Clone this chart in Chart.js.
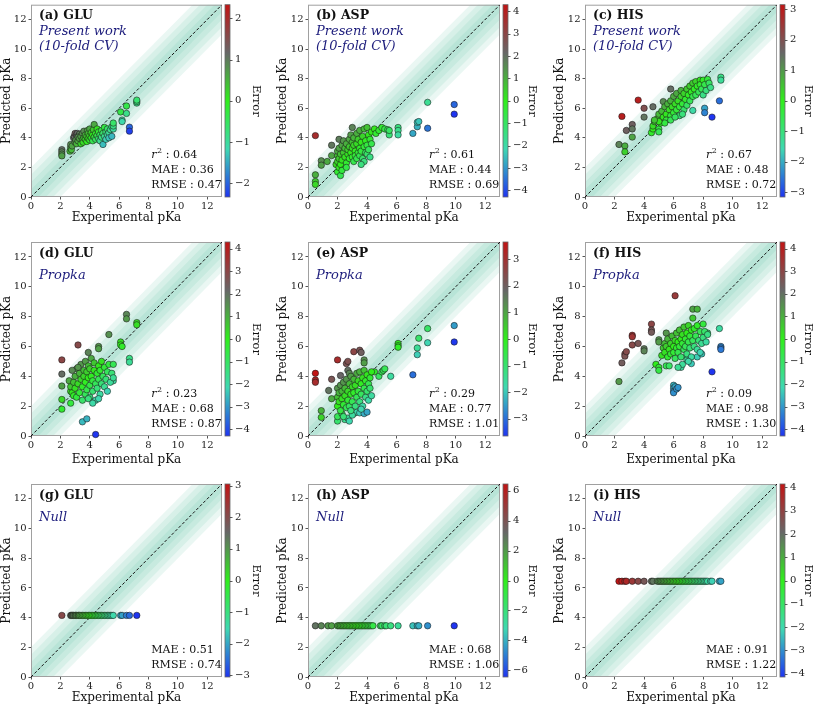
<!DOCTYPE html>
<html>
<head>
<meta charset="utf-8">
<script src="https://cdn.jsdelivr.net/npm/chart.js@4.4.1/dist/chart.umd.min.js"></script>
<style>
  html, body { margin: 0; padding: 0; background: #fff; }
  #figure { position: relative; width: 815px; height: 706px; overflow: hidden; }
  #figure canvas { position: absolute; }
</style>
</head>
<body>
<div id="figure"></div>
<script>
// [experimental, predicted] pairs
const gluCvPoints = [
  [2.1, 3.2], [2.1, 3.05], [2.1, 2.9], [2.1, 2.78], [2.65, 3.1], [2.7, 3.35], [2.7, 3.55], [2.75, 3.2], [2.8, 3.45],
  [2.9, 4.0], [2.95, 4.1], [3.0, 4.3], [3.1, 4.2], [3.15, 4.3], [3.25, 4.15], [3.3, 4.25], [3.0, 3.7], [3.05, 3.85],
  [3.1, 3.6], [3.2, 3.8], [3.2, 4.05], [3.3, 3.95], [3.4, 3.6], [3.4, 4.1], [3.5, 3.85], [3.5, 4.3], [3.55, 3.7],
  [3.6, 4.0], [3.6, 4.45], [3.7, 3.9], [3.7, 4.2], [3.8, 3.75], [3.8, 4.1], [3.85, 4.5], [3.9, 3.95], [3.9, 4.3],
  [4.0, 3.85], [4.0, 4.15], [4.0, 4.6], [4.1, 4.0], [4.1, 4.35], [4.2, 3.8], [4.2, 4.2], [4.25, 4.55], [4.3, 4.9],
  [4.3, 4.05], [4.4, 4.3], [4.4, 3.9], [4.5, 4.15], [4.5, 4.6], [4.6, 3.95], [4.6, 4.4], [4.7, 4.2], [4.7, 3.8],
  [4.8, 4.5], [4.8, 4.05], [4.9, 4.3], [4.9, 3.55], [5.0, 4.1], [5.0, 4.7], [5.1, 4.4], [5.1, 3.9], [5.2, 4.6],
  [5.2, 4.2], [5.3, 4.35], [5.3, 4.0], [5.4, 4.55], [5.5, 4.1], [5.5, 4.75], [5.6, 4.6], [5.6, 4.8], [5.6, 5.0],
  [6.1, 5.75], [6.2, 5.2], [6.2, 5.1], [6.5, 6.15], [6.5, 5.65], [7.2, 6.35], [7.2, 6.45], [7.2, 6.55], [6.7, 4.72], [6.7, 4.45],
];
const aspCvPoints = [
  [0.5, 4.15], [0.5, 1.5], [0.5, 1.05], [0.5, 0.85], [0.9, 2.45], [0.9, 2.15], [1.3, 2.4], [1.6, 3.5], [1.6, 2.8],
  [2.1, 3.9], [3.0, 4.7], [1.9, 2.2], [2.0, 1.7], [2.2, 1.45], [2.1, 2.0], [2.4, 2.1],
  [2.0, 2.4], [2.0, 2.8], [2.0, 3.1], [2.1, 2.6], [2.1, 3.3], [2.2, 2.2], [2.2, 2.9], [2.3, 3.5], [2.3, 2.5], [2.4, 3.0],
  [2.4, 3.8], [2.5, 2.7], [2.5, 3.3], [2.6, 2.3], [2.6, 3.6], [2.7, 2.9], [2.7, 3.2], [2.8, 2.6], [2.8, 3.9], [2.8, 3.4],
  [2.9, 3.0], [2.9, 4.2], [3.0, 2.7], [3.0, 3.3], [3.0, 3.7], [3.1, 2.4], [3.1, 3.5], [3.1, 4.0], [3.2, 3.1], [3.2, 2.8],
  [3.3, 3.6], [3.3, 4.3], [3.3, 2.6], [3.4, 3.0], [3.4, 3.9], [3.5, 3.3], [3.5, 4.5], [3.5, 2.8], [3.6, 3.7], [3.6, 3.1],
  [3.7, 4.1], [3.7, 2.6], [3.8, 3.4], [3.8, 4.6], [3.9, 3.0], [3.9, 3.8], [4.0, 4.7], [4.0, 3.5], [4.0, 2.9], [4.1, 4.2],
  [4.1, 3.2], [4.2, 3.9], [4.2, 2.7], [4.3, 3.6], [4.3, 4.4], [3.8, 2.4], [3.6, 2.2], [2.3, 1.8], [2.6, 2.0],
  [4.5, 4.6], [4.6, 4.3], [4.8, 4.5], [5.0, 4.7], [5.2, 4.6], [5.4, 4.55], [5.5, 4.2], [5.5, 4.5], [6.1, 4.7], [6.1, 4.5],
  [6.1, 4.2], [7.1, 4.3], [7.4, 4.75], [7.4, 5.05], [7.5, 5.1], [8.1, 6.4], [8.1, 4.65], [9.9, 6.25], [9.9, 5.6],
];
const hisCvPoints = [
  [2.3, 3.55], [2.5, 5.45], [2.7, 3.45], [2.7, 3.05], [2.8, 4.5], [3.2, 4.9], [3.2, 4.6], [3.2, 4.05], [3.6, 6.55],
  [4.0, 6.0], [4.0, 5.4], [4.6, 6.1], [4.5, 4.35], [4.6, 4.6], [4.6, 4.8], [4.7, 5.1], [5.0, 4.6], [5.0, 4.4],
  [5.3, 6.45], [5.8, 7.3], [7.3, 5.85], [8.1, 6.0], [8.1, 5.7], [8.6, 5.4], [9.1, 6.5], [9.2, 8.1], [9.2, 7.9],
  [4.9, 5.3], [5.0, 5.6], [5.1, 5.0], [5.2, 5.8], [5.3, 5.4], [5.4, 6.1], [5.5, 5.6], [5.5, 5.2], [5.6, 6.3], [5.7, 5.9],
  [5.8, 5.5], [5.8, 6.5], [5.9, 6.1], [6.0, 5.7], [6.0, 6.8], [6.1, 6.3], [6.2, 5.9], [6.2, 7.0], [6.3, 6.5], [6.4, 6.1],
  [6.4, 5.5], [6.5, 6.8], [6.5, 7.2], [6.6, 6.3], [6.7, 5.9], [6.7, 7.0], [6.8, 6.6], [6.9, 7.3], [6.9, 6.2], [7.0, 6.9],
  [7.1, 7.5], [7.1, 6.5], [7.2, 7.1], [7.3, 6.8], [7.3, 7.7], [7.4, 7.3], [7.5, 6.9], [7.5, 7.8], [7.6, 7.5], [7.7, 7.1],
  [7.8, 7.9], [7.8, 7.6], [7.9, 7.3], [8.0, 7.9], [8.0, 6.9], [8.1, 7.6], [8.2, 7.2], [8.3, 7.95], [8.4, 7.7], [8.5, 7.4],
  [5.8, 5.2], [6.1, 5.4], [6.6, 5.6], [5.4, 5.0], [5.0, 5.1], [4.7, 5.2],
];
const gluPkPoints = [
  [4.4, 0.1], [3.5, 0.95], [3.8, 1.15], [2.1, 5.1], [2.1, 4.15], [3.2, 6.1], [2.1, 3.35], [2.1, 2.45], [2.1, 1.8],
  [3.9, 5.6], [4.6, 6.0], [4.6, 5.85], [5.3, 6.8], [6.1, 6.3], [6.1, 6.1], [6.2, 6.0], [6.5, 8.15], [6.5, 7.85],
  [7.2, 7.6], [7.2, 7.45], [6.7, 5.2], [6.7, 4.95], [5.6, 3.7], [2.7, 2.2],
  [2.6, 3.7], [2.7, 3.0], [2.7, 3.3], [2.8, 2.9], [2.9, 3.6], [2.9, 2.7], [3.0, 4.0], [3.0, 3.2], [3.1, 4.5], [3.1, 2.6],
  [3.2, 3.5], [3.3, 4.2], [3.3, 2.9], [3.4, 4.8], [3.4, 3.8], [3.5, 3.3], [3.5, 2.4], [3.6, 4.4], [3.6, 4.0], [3.7, 3.6],
  [3.7, 5.0], [3.7, 2.8], [3.8, 4.3], [3.8, 3.1], [3.9, 4.7], [3.9, 3.9], [4.0, 3.4], [4.0, 4.5], [4.0, 2.6], [4.1, 5.2],
  [4.1, 4.0], [4.2, 3.7], [4.2, 3.0], [4.3, 4.4], [4.3, 4.9], [4.4, 3.5], [4.4, 2.4], [4.5, 4.2], [4.5, 3.2], [4.6, 4.7],
  [4.6, 3.8], [4.7, 2.8], [4.7, 4.4], [4.8, 3.5], [4.8, 5.0], [4.9, 4.0], [5.0, 3.3], [5.0, 4.6], [5.1, 3.8], [5.2, 4.3],
  [5.2, 3.0], [5.3, 4.8], [5.4, 3.6], [5.5, 4.2], [5.6, 3.9], [5.6, 4.8], [4.6, 2.5], [3.9, 2.5], [4.2, 2.2], [2.8, 4.4], [3.2, 4.6],
];
const aspPkPoints = [
  [0.5, 4.2], [0.5, 3.75], [0.5, 3.6], [0.9, 1.7], [0.9, 1.25], [1.4, 3.05], [1.6, 3.8], [1.6, 2.5], [2.0, 5.1],
  [2.2, 4.05], [2.6, 4.85], [2.7, 5.0], [2.7, 4.4], [2.8, 4.2], [3.1, 5.65], [3.5, 5.75], [3.6, 5.6], [3.8, 5.1],
  [3.8, 4.9], [4.5, 4.3], [4.8, 4.0], [5.0, 4.3], [5.1, 4.4], [5.2, 4.5], [5.6, 4.0], [6.1, 6.2], [6.1, 6.05],
  [6.1, 5.95], [7.1, 4.1], [7.4, 5.9], [7.4, 5.45], [7.5, 6.55], [8.1, 7.2], [8.1, 6.25], [9.9, 7.4], [9.9, 6.3],
  [2.0, 1.0], [2.0, 1.3], [2.3, 1.5], [2.5, 1.1], [2.7, 1.2], [2.8, 1.0], [3.1, 1.5], [3.3, 1.6], [3.5, 1.55], [3.8, 1.5], [4.0, 1.6],
  [2.0, 2.0], [2.0, 2.6], [2.0, 3.2], [2.1, 2.3], [2.1, 2.9], [2.2, 1.7], [2.2, 3.4], [2.3, 2.5], [2.3, 3.0], [2.4, 2.1],
  [2.4, 3.6], [2.5, 2.7], [2.5, 3.2], [2.6, 1.9], [2.6, 3.8], [2.7, 2.4], [2.7, 3.0], [2.8, 3.5], [2.8, 2.0], [2.9, 2.8],
  [2.9, 4.0], [3.0, 2.3], [3.0, 3.3], [3.1, 2.9], [3.1, 3.8], [3.2, 2.0], [3.2, 3.4], [3.3, 2.6], [3.3, 4.2], [3.4, 3.0],
  [3.4, 3.7], [3.5, 2.3], [3.5, 4.3], [3.6, 2.8], [3.6, 3.5], [3.7, 3.9], [3.7, 2.0], [3.8, 3.2], [3.8, 4.4], [3.9, 2.6],
  [3.9, 3.7], [4.0, 3.0], [4.0, 4.1], [4.1, 3.5], [4.1, 2.4], [4.2, 3.9], [4.2, 3.2], [4.3, 2.7], [4.3, 4.3], [2.4, 1.3],
  [3.0, 1.4], [3.6, 1.8], [2.9, 1.7],
];
const hisPkPoints = [
  [2.3, 3.65], [2.5, 4.9], [2.7, 5.5], [2.7, 5.35], [2.8, 5.65], [3.2, 6.75], [3.2, 6.65], [3.2, 6.1], [3.6, 6.2],
  [4.0, 5.85], [4.0, 5.7], [4.5, 7.5], [4.5, 7.1], [4.5, 6.95], [6.1, 9.4], [5.0, 6.45], [5.0, 6.3], [4.8, 4.8],
  [5.0, 4.6], [5.0, 4.4], [5.5, 6.9], [5.5, 4.7], [6.0, 3.4], [6.0, 3.2], [6.0, 3.0], [6.0, 2.9], [6.1, 3.3], [6.2, 3.15],
  [6.3, 3.25], [7.3, 8.5], [7.6, 8.5], [7.3, 7.9], [8.6, 4.3], [9.2, 6.0], [9.2, 5.9], [9.2, 5.8], [9.1, 7.2], [8.3, 6.9],
  [7.2, 4.85], [7.6, 5.3], [7.9, 5.5], [6.9, 5.3], [6.9, 5.1], [6.5, 4.6],
  [5.2, 5.4], [5.3, 5.9], [5.4, 6.2], [5.4, 5.6], [5.5, 6.0], [5.6, 5.3], [5.6, 6.5], [5.7, 5.8], [5.8, 6.2], [5.8, 5.5],
  [5.9, 6.7], [6.0, 6.0], [6.0, 5.6], [6.1, 6.4], [6.1, 5.2], [6.2, 5.9], [6.2, 6.9], [6.3, 6.3], [6.3, 5.6], [6.4, 7.1],
  [6.4, 6.0], [6.5, 6.5], [6.5, 5.3], [6.6, 6.8], [6.6, 6.2], [6.7, 5.8], [6.7, 7.3], [6.8, 6.5], [6.8, 6.0], [6.9, 6.9],
  [6.9, 5.5], [7.0, 6.3], [7.0, 7.4], [7.1, 5.9], [7.1, 6.7], [7.2, 7.1], [7.2, 5.3], [7.3, 6.4], [7.4, 6.0], [7.4, 7.2],
  [7.5, 6.7], [7.6, 7.4], [7.6, 5.8], [7.7, 6.4], [7.8, 7.0], [7.9, 6.2], [8.0, 7.5], [8.0, 6.6], [8.1, 7.0], [8.2, 6.3],
  [8.3, 6.8], [6.6, 4.8], [7.0, 5.0], [7.8, 5.6], [5.7, 4.7], [6.3, 4.6],
];

// null model: one constant prediction per residue
const nullGluPred = 4.15;
const nullAspPred = 3.45;
const nullHisPred = 6.45;
const nullGluExp = [2.1, 2.7, 2.75, 2.8, 2.85, 2.9, 3.0, 3.05, 3.1, 3.2, 3.25, 3.3, 3.4, 3.5, 3.6, 3.7, 3.8, 3.9, 4.0, 4.1,
  4.2, 4.3, 4.4, 4.5, 4.6, 4.7, 4.8, 4.9, 5.0, 5.1, 5.2, 5.3, 5.4, 5.5, 5.6, 6.1, 6.2, 6.5, 6.7, 7.2];
const nullAspExp = [0.5, 0.9, 1.35, 1.6, 2.0, 2.1, 2.2, 2.3, 2.4, 2.5, 2.6, 2.7, 2.8, 2.9, 3.0, 3.1, 3.2, 3.3, 3.4, 3.5,
  3.6, 3.7, 3.8, 3.9, 4.0, 4.1, 4.2, 4.3, 4.4, 4.9, 5.0, 5.2, 5.3, 5.6, 6.1, 7.1, 7.4, 7.5, 8.1, 9.9];
const nullHisExp = [2.3, 2.5, 2.7, 2.8, 3.2, 3.6, 4.0, 4.5, 4.6, 4.9, 5.0, 5.1, 5.2, 5.3, 5.4, 5.5, 5.6, 5.7, 5.8, 5.9,
  6.0, 6.1, 6.2, 6.3, 6.4, 6.5, 6.6, 6.7, 6.8, 6.9, 7.0, 7.1, 7.2, 7.3, 7.4, 7.5, 7.6, 7.7, 7.8, 7.9, 8.0, 8.1, 8.2,
  8.3, 8.5, 8.6, 9.1, 9.2];

// r2, MAE, RMSE as printed
const gluCvStats = ['0.64', '0.36', '0.47'];
const aspCvStats = ['0.61', '0.44', '0.69'];
const hisCvStats = ['0.67', '0.48', '0.72'];
const gluPkStats = ['0.23', '0.68', '0.87'];
const aspPkStats = ['0.29', '0.77', '1.01'];
const hisPkStats = ['0.09', '0.98', '1.30'];
const gluNullStats = [null, '0.51', '0.74'];
const aspNullStats = [null, '0.68', '1.06'];
const hisNullStats = [null, '0.91', '1.22'];

const axisTicks = [0, 2, 4, 6, 8, 10, 12];
const axisMax = 13;
const bandOffsets = [2, 1.5, 1, 0.5];
const errTicks3 = [-3, -2, -1, 0, 1, 2, 3];
const errTicks4 = [-4, -3, -2, -1, 0, 1, 2, 3, 4];
const errTicks2 = [-2, -1, 0, 1, 2];
const errTicks6 = [-6, -4, -2, 0, 2, 4, 6];

const colorStops = ['#1f35f0', '#3fd8b2', '#30ee1c', '#676767', '#c21414'];
const serif = '"DejaVu Serif", serif';

const stopRgb = colorStops.map((hex) => [1, 3, 5].map((i) => parseInt(hex.slice(i, i + 2), 16)));

function errorColor(err, vmax) {
  const t = Math.min(1, Math.max(0, (err + vmax) / (2 * vmax))) * (stopRgb.length - 1);
  const i = Math.min(stopRgb.length - 2, Math.floor(t));
  const f = t - i;
  const c = stopRgb[i].map((v, k) => Math.round(v + (stopRgb[i + 1][k] - v) * f));
  return `rgb(${c.join(',')})`;
}

const columns = [
  { left: 0, width: 272, plotLeft: 31, plotRight: 222, yTitlePad: 0, cbTitlePad: 9 },
  { left: 272, width: 271, plotLeft: 308, plotRight: 500, yTitlePad: 4, cbTitlePad: 4 },
  { left: 543, width: 272, plotLeft: 585, plotRight: 777, yTitlePad: 10, cbTitlePad: 0 },
];
const rows = [
  { top: 0, height: 235, plotTop: 1, plotBottom: 197, xTitlePad: 9.5 },
  { top: 235, height: 235, plotTop: 242, plotBottom: 436, xTitlePad: 3 },
  { top: 470, height: 236, plotTop: 484, plotBottom: 677, xTitlePad: 1 },
];

const cvNote = ['Present work', '(10-fold CV)'];
const panels = [
  { id: 'a', label: '(a) GLU', note: cvNote, points: gluCvPoints, vmax: 2.33, cbTicks: errTicks2, stats: gluCvStats },
  { id: 'b', label: '(b) ASP', note: cvNote, points: aspCvPoints, vmax: 4.3, cbTicks: errTicks4, stats: aspCvStats },
  { id: 'c', label: '(c) HIS', note: cvNote, points: hisCvPoints, vmax: 3.15, cbTicks: errTicks3, stats: hisCvStats },
  { id: 'd', label: '(d) GLU', note: ['Propka'], points: gluPkPoints, vmax: 4.3, cbTicks: errTicks4, stats: gluPkStats },
  { id: 'e', label: '(e) ASP', note: ['Propka'], points: aspPkPoints, vmax: 3.65, cbTicks: errTicks3, stats: aspPkStats },
  { id: 'f', label: '(f) HIS', note: ['Propka'], points: hisPkPoints, vmax: 4.3, cbTicks: errTicks4, stats: hisPkStats },
  { id: 'g', label: '(g) GLU', note: ['Null'], points: nullGluExp.map((e) => [e, nullGluPred]), vmax: 3.05, cbTicks: errTicks3, stats: gluNullStats },
  { id: 'h', label: '(h) ASP', note: ['Null'], points: nullAspExp.map((e) => [e, nullAspPred]), vmax: 6.45, cbTicks: errTicks6, stats: aspNullStats },
  { id: 'i', label: '(i) HIS', note: ['Null'], points: nullHisExp.map((e) => [e, nullHisPred]), vmax: 4.15, cbTicks: errTicks4, stats: hisNullStats },
];

const minusLabel = (v) => (v < 0 ? '\u2212' + Math.abs(v) : String(v));

// keep tick labels from pushing the plot area around
const noOverhang = (s) => {
  s.paddingTop = 0;
  s.paddingBottom = 0;
  s.paddingLeft = 0;
  s.paddingRight = 0;
};

const panelDecor = (panel) => ({
  id: 'decor',
  beforeDatasetsDraw(chart) {
    const { ctx, chartArea: a, scales: { x, y } } = chart;
    ctx.save();
    ctx.beginPath();
    ctx.rect(a.left, a.top, a.right - a.left, a.bottom - a.top);
    ctx.clip();
    bandOffsets.forEach((k) => {
      ctx.beginPath();
      ctx.moveTo(x.getPixelForValue(0), y.getPixelForValue(-k));
      ctx.lineTo(x.getPixelForValue(axisMax), y.getPixelForValue(axisMax - k));
      ctx.lineTo(x.getPixelForValue(axisMax), y.getPixelForValue(axisMax + k));
      ctx.lineTo(x.getPixelForValue(0), y.getPixelForValue(k));
      ctx.closePath();
      ctx.fillStyle = 'rgba(80, 186, 160, 0.12)';
      ctx.fill();
    });
    ctx.restore();
    ctx.save();
    ctx.strokeStyle = '#a0a0a0';
    ctx.lineWidth = 1;
    ctx.strokeRect(a.left + 0.5, a.top + 0.5, a.right - a.left - 1, a.bottom - a.top - 1);
    ctx.restore();
  },
  afterDraw(chart) {
    const { ctx, chartArea: a } = chart;
    const cb = chart.scales.cb;
    ctx.save();

    // colour bar
    const barL = a.right + 3;
    const barW = 5;
    const grad = ctx.createLinearGradient(0, cb.getPixelForValue(-panel.vmax), 0, cb.getPixelForValue(panel.vmax));
    colorStops.forEach((c, i) => grad.addColorStop(i / (colorStops.length - 1), c));
    ctx.fillStyle = grad;
    ctx.fillRect(barL, a.top, barW, a.bottom - a.top);
    ctx.strokeStyle = '#666';
    ctx.lineWidth = 0.8;
    ctx.strokeRect(barL, a.top, barW, a.bottom - a.top);
    ctx.strokeStyle = '#333';
    panel.cbTicks.forEach((v) => {
      const py = Math.round(cb.getPixelForValue(v)) + 0.5;
      ctx.beginPath();
      ctx.moveTo(barL + barW, py);
      ctx.lineTo(barL + barW + 2.5, py);
      ctx.stroke();
    });

    // panel title and model name
    ctx.textAlign = 'left';
    ctx.textBaseline = 'middle';
    ctx.fillStyle = '#111';
    ctx.font = `bold 12.5px ${serif}`;
    ctx.fillText(panel.label, a.left + 8, a.top + 11.5);
    ctx.font = `italic 13px ${serif}`;
    ctx.fillStyle = '#1d1d7c';
    const noteTop = a.top + 34 - (panel.note.length - 1) * 7.5;
    panel.note.forEach((line, i) => ctx.fillText(line, a.left + 8, noteTop + i * 15));

    // metrics
    ctx.fillStyle = '#111';
    const sx = a.left + 0.63 * (a.right - a.left);
    const [r2, mae, rmse] = panel.stats;
    if (r2) {
      const ry = a.bottom - 42;
      ctx.font = `italic 11px ${serif}`;
      ctx.fillText('r', sx, ry);
      let cx = sx + ctx.measureText('r').width + 0.5;
      ctx.font = `8px ${serif}`;
      ctx.fillText('2', cx, ry - 4);
      cx += ctx.measureText('2').width;
      ctx.font = `11px ${serif}`;
      ctx.fillText(` : ${r2}`, cx, ry);
    }
    ctx.font = `11px ${serif}`;
    ctx.fillText(`MAE : ${mae}`, sx, a.bottom - 26.5);
    ctx.fillText(`RMSE : ${rmse}`, sx, a.bottom - 11.5);
    ctx.restore();
  },
});

const figure = document.querySelector('#figure');

panels.forEach((panel, index) => {
  const col = columns[index % 3];
  const row = rows[Math.floor(index / 3)];
  const canvas = document.createElement('canvas');
  canvas.width = col.width;
  canvas.height = row.height;
  canvas.style.left = `${col.left}px`;
  canvas.style.top = `${row.top}px`;
  canvas.style.width = `${col.width}px`;
  canvas.style.height = `${row.height}px`;
  figure.appendChild(canvas);

  const leftW = col.plotLeft - col.left;
  const rightW = col.left + col.width - col.plotRight;
  const bottomH = row.top + row.height - row.plotBottom;
  const tickFont = { family: serif, size: 10 };

  new Chart(canvas, {
    type: 'scatter',
    data: {
      datasets: [
        {
          type: 'line',
          data: [0, axisMax].map((v) => ({ x: v, y: v })),
          borderColor: '#111',
          borderWidth: 1,
          borderDash: [3, 2],
          pointRadius: 0,
          yAxisID: 'y',
          order: 2,
        },
        {
          data: panel.points.map(([x, y]) => ({ x, y })),
          backgroundColor: panel.points.map(([x, y]) => errorColor(y - x, panel.vmax)),
          borderColor: 'rgba(25, 25, 25, 0.8)',
          borderWidth: 0.7,
          pointRadius: 3.2,
          yAxisID: 'y',
          clip: 6,
          order: 1,
        },
      ],
    },
    options: {
      responsive: false,
      animation: false,
      devicePixelRatio: 1,
      layout: { padding: { top: row.plotTop - row.top, left: 0, right: 0, bottom: 0 } },
      plugins: { legend: { display: false }, tooltip: { enabled: false } },
      scales: {
        x: {
          type: 'linear',
          min: 0,
          max: axisMax,
          afterBuildTicks: (s) => { s.ticks = axisTicks.map((v) => ({ value: v })); },
          afterFit: (s) => { s.height = bottomH; noOverhang(s); },
          grid: { drawOnChartArea: false, tickLength: 2.5, color: '#555' },
          border: { display: false },
          ticks: { padding: 1, color: '#222', font: tickFont, maxRotation: 0, autoSkip: false },
          title: { display: true, text: 'Experimental pKa', color: '#111', font: { family: serif, size: 12 }, padding: { top: 0, bottom: row.xTitlePad } },
        },
        y: {
          type: 'linear',
          min: 0,
          max: axisMax,
          afterBuildTicks: (s) => { s.ticks = axisTicks.map((v) => ({ value: v })); },
          afterFit: (s) => { s.width = leftW; noOverhang(s); },
          grid: { drawOnChartArea: false, tickLength: 2.5, color: '#555' },
          border: { display: false },
          ticks: { padding: 2, color: '#222', font: tickFont, autoSkip: false },
          title: { display: true, text: 'Predicted pKa', color: '#111', font: { family: serif, size: 12 }, padding: { top: col.yTitlePad, bottom: 0 } },
        },
        cb: {
          type: 'linear',
          position: 'right',
          min: -panel.vmax,
          max: panel.vmax,
          afterBuildTicks: (s) => { s.ticks = panel.cbTicks.map((v) => ({ value: v })); },
          afterFit: (s) => { s.width = rightW; noOverhang(s); },
          grid: { drawOnChartArea: false, drawTicks: false },
          border: { display: false },
          ticks: { padding: 13, color: '#222', font: tickFont, autoSkip: false, callback: minusLabel },
          title: { display: true, text: 'Error', color: '#111', font: { family: serif, size: 11.5 }, padding: { top: col.cbTitlePad, bottom: 0 } },
        },
      },
    },
    plugins: [panelDecor(panel)],
  });
});
</script>
</body>
</html>
